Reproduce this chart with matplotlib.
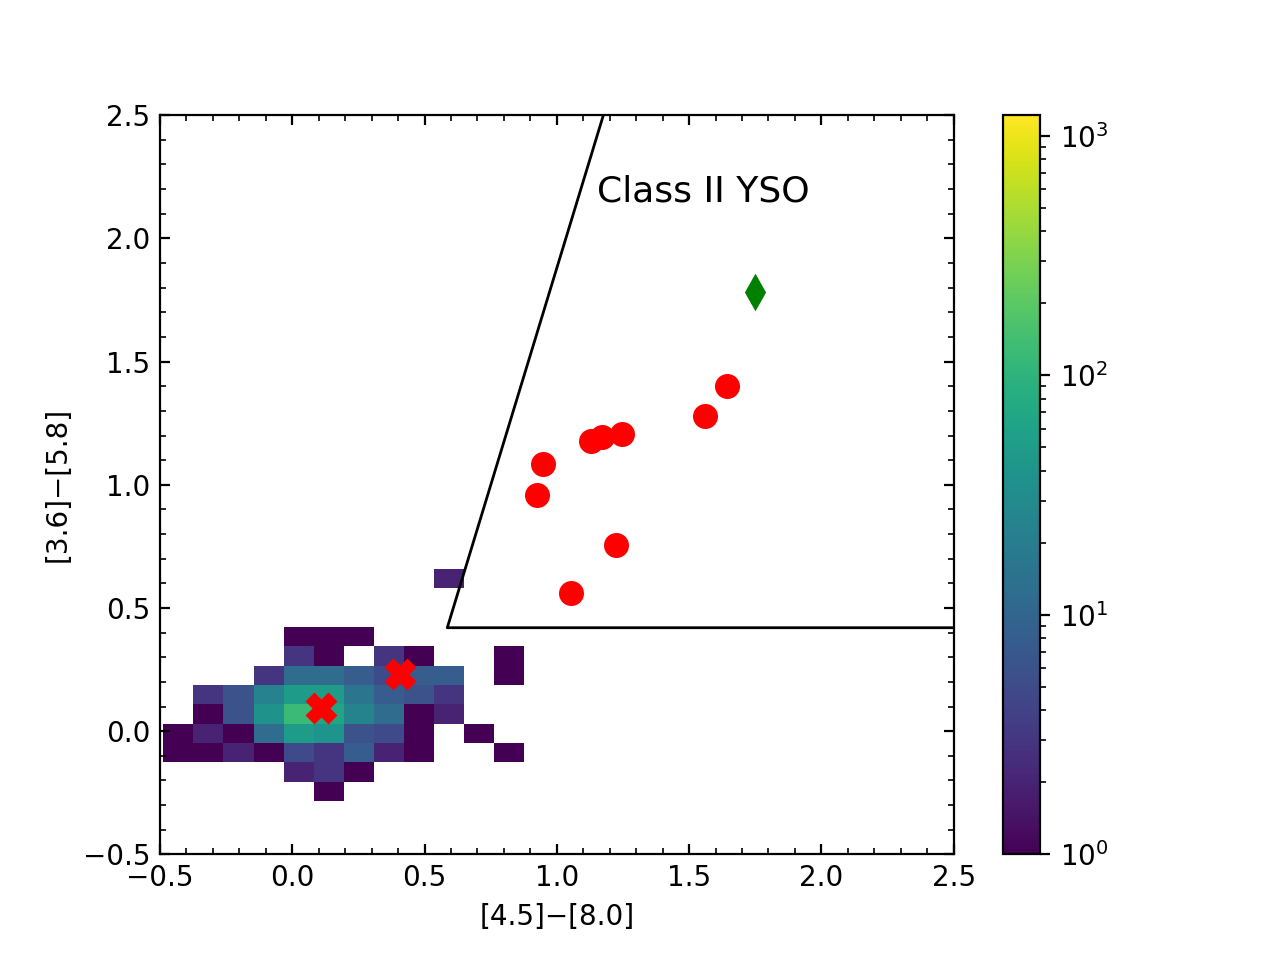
import numpy as np
import matplotlib
matplotlib.use("Agg")
import matplotlib.pyplot as plt
from matplotlib.colors import LogNorm

# color-color diagram: field stars as 2D histogram, candidates as markers
x_edges = -0.487 + 0.1135 * np.arange(13)
y_edges = -0.2836 + 0.0786 * np.arange(13)

# counts per cell, rows from bottom (y) to top, columns left to right (x); 0 = empty
counts = np.array([
    [0, 0, 0, 0, 0, 1, 0, 0, 0, 0, 0, 0],
    [0, 0, 0, 0, 2, 3, 1, 0, 0, 0, 0, 0],
    [1, 1, 2, 1, 5, 3, 8, 2, 1, 0, 0, 1],
    [1, 2, 1, 12, 50, 40, 6, 5, 1, 0, 1, 0],
    [0, 1, 6, 37, 125, 65, 24, 12, 1, 2, 0, 0],
    [0, 3, 6, 23, 50, 50, 16, 8, 6, 3, 0, 0],
    [0, 0, 0, 3, 12, 12, 8, 5, 8, 8, 0, 1],
    [0, 0, 0, 0, 3, 1, 0, 3, 1, 0, 0, 1],
    [0, 0, 0, 0, 1, 1, 1, 0, 0, 0, 0, 0],
    [0, 0, 0, 0, 0, 0, 0, 0, 0, 0, 0, 0],
    [0, 0, 0, 0, 0, 0, 0, 0, 0, 0, 0, 0],
    [0, 0, 0, 0, 0, 0, 0, 0, 0, 2, 0, 0],
], dtype=float)
count_max = 1220

# red X: reference sources
ref_x = [0.108, 0.407]
ref_y = [0.094, 0.234]

# red circles: YSO candidates
yso_x = [0.927, 0.946, 1.052, 1.129, 1.171, 1.222, 1.245, 1.559, 1.644]
yso_y = [0.957, 1.086, 0.562, 1.179, 1.192, 0.757, 1.208, 1.281, 1.399]

# green diamond
star_x = [1.751]
star_y = [1.783]

# Class II region boundary
box_x = [1.176, 0.586, 2.6]
box_y = [2.5, 0.42, 0.42]

fig = plt.figure(figsize=(6.4, 4.8), dpi=200)
ax = fig.add_subplot(111)

masked = np.ma.masked_where(counts <= 0, counts)
mesh = ax.pcolormesh(x_edges, y_edges, masked, cmap="viridis",
                     norm=LogNorm(vmin=1, vmax=count_max))
cb = fig.colorbar(mesh, ax=ax)

ax.plot(box_x, box_y, color="black", lw=1.0)
ax.plot(ref_x, ref_y, "X", color="red", markersize=10, linestyle="none")
ax.plot(yso_x, yso_y, "o", color="red", markersize=8, linestyle="none")
ax.plot(star_x, star_y, "d", color="green", markersize=8, linestyle="none")

ax.text(1.152, 2.148, "Class II YSO", fontsize=13, ha="left", va="baseline")

ax.set_xlim(-0.5, 2.5)
ax.set_ylim(-0.5, 2.5)
ax.set_xlabel("[4.5]\u2212[8.0]")
ax.set_ylabel("[3.6]\u2212[5.8]")
ax.minorticks_on()
ax.tick_params(which="both", direction="in", top=True, right=True)

fig.savefig("out.png", dpi=200)
